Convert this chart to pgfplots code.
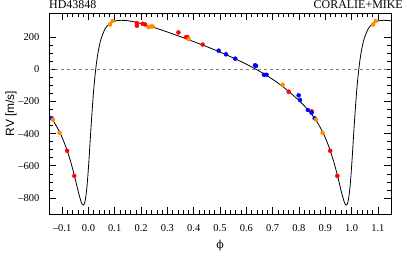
\documentclass[border=0pt]{standalone}
\usepackage{fontspec}
\setmainfont{Liberation Serif}
\newfontfamily\helv{Liberation Sans}
\newfontfamily\dvs{DejaVu Serif}
\usepackage{pgfplots}
\pgfplotsset{compat=1.18}
\definecolor{myred}{RGB}{255,0,0}
\definecolor{myorange}{RGB}{255,140,0}
\definecolor{myblue}{RGB}{0,0,255}
\begin{document}
\begin{tikzpicture}
\begin{axis}[
  scale only axis, width=342bp, height=201bp,
  xmin=-0.15, xmax=1.15, ymin=-900, ymax=350,
  xtick={-0.1,0,0.1,0.2,0.3,0.4,0.5,0.6,0.7,0.8,0.9,1.0,1.1},
  xticklabels={--0.1,0.0,0.1,0.2,0.3,0.4,0.5,0.6,0.7,0.8,0.9,1.0,1.1},
  ytick={-800,-600,-400,-200,0,200},
  yticklabels={--800,--600,--400,--200,0,200},
  minor x tick num=4, minor y tick num=3,
  tick align=inside, tick pos=both,
  major tick length=7bp, minor tick length=4bp,
  every tick/.style={black, line width=0.6pt},
  axis line style={line width=0.7pt},
  tick label style={font=\fontsize{10.5}{12}\selectfont},
  xticklabel style={anchor=base, yshift=-17bp, inner sep=0pt},
  yticklabel style={anchor=east, xshift=-9.5bp, inner sep=0pt},
  clip=true,
]
\addplot[gray, dashed, line width=0.7pt, forget plot] coordinates {(-0.15,0) (1.15,0)};
\addplot[black, line width=0.8pt, smooth, no marks] coordinates {
(-0.1998,-194.2) (-0.1636,-255.6) (-0.1325,-324.1) (-0.1066,-400.4) (-0.0855,-484.9)
(-0.0674,-576.3) (-0.0520,-670.7) (-0.0389,-759.5) (-0.0277,-825.8) (-0.0228,-842.4)
(-0.0182,-843.7) (-0.0138,-826.2) (-0.0096,-787.3) (-0.0056,-727.4) (-0.0016,-647.6)
(0.0024,-552.3) (0.0064,-447.2) (0.0106,-338.6) (0.0150,-232.7) (0.0196,-133.7)
(0.0246,-45.0) (0.0299,32.0) (0.0357,97.1) (0.0420,150.9) (0.0488,194.1)
(0.0642,254.4) (0.0834,287.9) (0.1070,302.5) (0.1351,304.1) (0.1680,296.9)
(0.2024,283.5) (0.2382,265.8) (0.2770,244.7) (0.3183,221.2) (0.3618,195.4)
(0.4069,167.8) (0.4532,138.4) (0.5,107.0)
(0.5468,73.4) (0.5931,37.5) (0.6382,-1.2) (0.6817,-43.1) (0.7230,-88.7)
(0.7618,-138.7) (0.8002,-194.2) (0.8364,-255.6) (0.8675,-324.1) (0.8934,-400.4)
(0.9145,-484.9) (0.9326,-576.3) (0.9480,-670.7) (0.9611,-759.5) (0.9723,-825.8)
(0.9772,-842.4) (0.9818,-843.7) (0.9862,-826.2) (0.9904,-787.3) (0.9944,-727.4)
(0.9984,-647.6) (1.0024,-552.3) (1.0064,-447.2) (1.0106,-338.6) (1.0150,-232.7)
(1.0196,-133.7) (1.0246,-45.0) (1.0299,32.0) (1.0357,97.1) (1.0420,150.9)
(1.0488,194.1) (1.0642,254.4) (1.0834,287.9) (1.1070,302.5) (1.1351,304.1)
(1.1680,296.9)
};
% red points
\addplot[only marks, mark=*, mark size=2bp, color=myred] coordinates {
(-0.081,-507) (-0.054,-663) (0.919,-507) (0.946,-663)
(0.184,287) (0.184,271) (0.206,283) (0.215,279)
(0.342,229) (0.371,200) (0.376,200) (0.434,154)
(0.761,-139) (0.849,-262) (-0.151,-262)
};
% blue points
\addplot[only marks, mark=*, mark size=2bp, color=myblue] coordinates {
(0.495,116) (0.523,93) (0.558,66) (0.633,25) (0.637,21)
(0.667,-34) (0.677,-34) (0.799,-162) (0.804,-191) (0.834,-253)
(0.848,-270) (0.860,-305) (-0.152,-270) (-0.140,-305)
};
% orange points
\addplot[only marks, mark=*, mark size=2bp, color=myorange] coordinates {
(0.082,279) (0.092,300) (1.082,279) (1.092,300)
(0.228,262) (0.237,266) (0.244,266) (0.381,187)
(0.738,-96) (0.865,-313) (0.890,-395)
(-0.135,-313) (-0.110,-395)
};
\end{axis}
\node[anchor=base west, inner sep=0pt, font=\fontsize{12}{14}\selectfont] at ([yshift=4.8bp]current axis.north west) {HD43848};
\node[anchor=base east, inner sep=0pt, font=\fontsize{12}{14}\selectfont] at ([xshift=12bp,yshift=4.8bp]current axis.north east) {CORALIE+MIKE};
\node[rotate=90, anchor=center, inner sep=0pt, font=\helv\fontsize{12}{14}\selectfont] at ([xshift=-38bp]current axis.west) {RV [m/s]};
\node[anchor=center, inner sep=0pt, font=\dvs\fontsize{11}{13}\selectfont] at ([yshift=-31bp]current axis.south) {ϕ};
\pgfresetboundingbox
\path[use as bounding box] ([xshift=-49bp,yshift=-53bp]current axis.south west) rectangle ([xshift=16bp,yshift=13bp]current axis.north east);
\end{tikzpicture}
\end{document}
